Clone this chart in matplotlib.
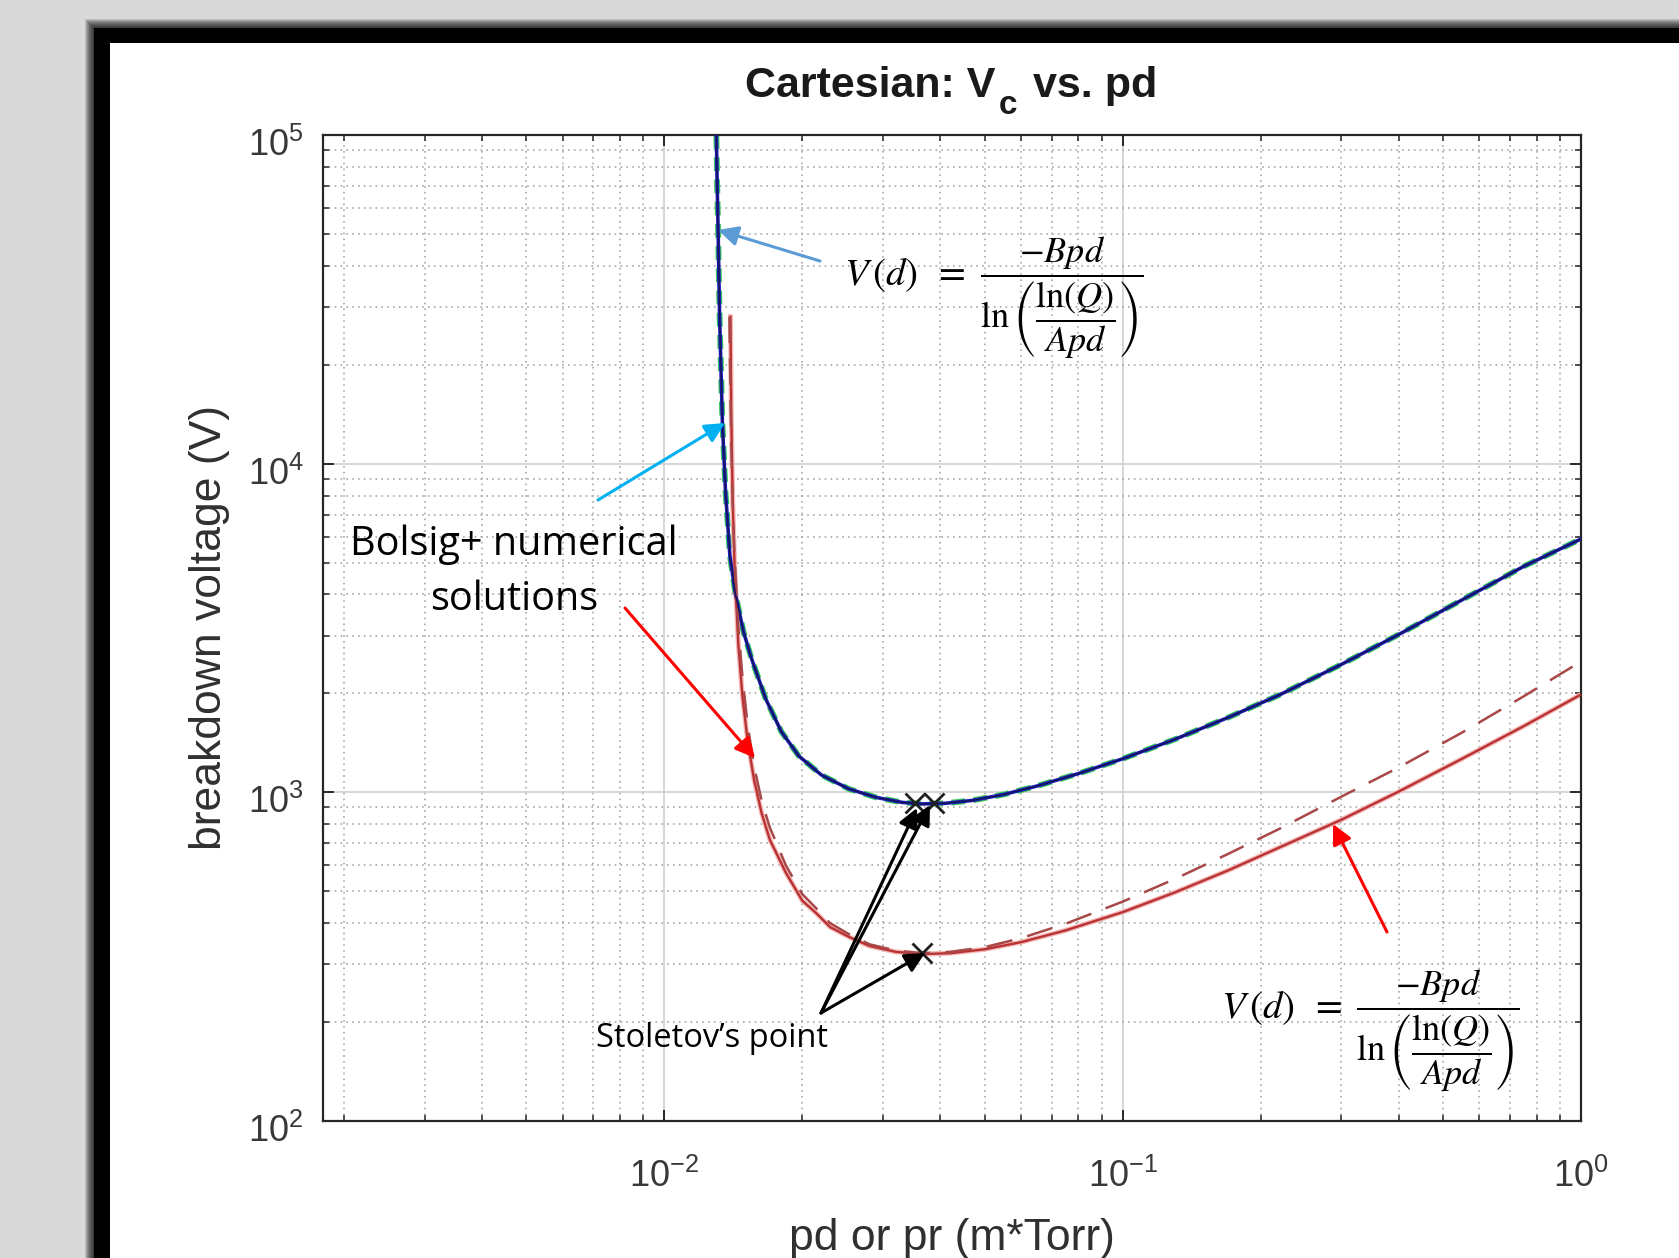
import matplotlib
matplotlib.use('Agg')
import matplotlib.pyplot as plt
from matplotlib.patches import Rectangle
from matplotlib.ticker import LogLocator, NullFormatter
from matplotlib.transforms import ScaledTranslation

# ---------------- data ----------------
pd_upper = [0.01299, 0.01303, 0.01310, 0.01320, 0.01339, 0.01360, 0.01390, 0.01430,
            0.01489, 0.01550, 0.01664, 0.01800, 0.01965, 0.0220, 0.02528, 0.0290,
            0.0330, 0.0365, 0.0410, 0.0470, 0.0550, 0.0650, 0.080, 0.100, 0.130,
            0.170, 0.220, 0.300, 0.400, 0.550, 0.750, 1.000]
v_upper = [100000, 75000, 51600, 28000, 13200, 8200, 5250, 4000,
           3074, 2550, 1925, 1530, 1290, 1130, 1024, 965,
           932, 922, 926, 945, 985, 1045, 1140, 1265, 1450,
           1690, 1980, 2450, 3020, 3850, 4870, 5900]

pd_lower = [0.01394, 0.01400, 0.01410, 0.01425, 0.01450, 0.01480, 0.01520, 0.01570,
            0.01631, 0.01700, 0.01841, 0.0200, 0.02141, 0.0230, 0.0253, 0.0280,
            0.0320, 0.0365, 0.0420, 0.0500, 0.0600, 0.0750, 0.100, 0.130, 0.170,
            0.220, 0.300, 0.400, 0.550, 0.750, 1.000]
v_lower = [28000, 13900, 7650, 4630, 2830, 1970, 1430, 1090,
           863, 716, 570, 468, 430, 389, 363, 341,
           327, 322, 324, 333, 350, 380, 432, 496, 579,
           680, 825, 1005, 1265, 1590, 1985]

pd_lower_dash = [0.01387, 0.01395, 0.01405, 0.01420, 0.01450, 0.01480, 0.01520, 0.01570,
                 0.01631, 0.01700, 0.01841, 0.0200, 0.02141, 0.0230, 0.0253, 0.0280,
                 0.0320, 0.0365, 0.0420, 0.0500, 0.0600, 0.0750, 0.100, 0.130, 0.170,
                 0.220, 0.300, 0.400, 0.550, 0.750, 1.000]
v_lower_dash = [28000, 15000, 9000, 5600, 3200, 2250, 1600, 1200,
                940, 780, 600, 490, 445, 400, 370, 345,
                330, 324, 327, 338, 360, 398, 465, 545, 650,
                775, 970, 1190, 1520, 1960, 2500]

stoletov_pd = [0.03518, 0.03879, 0.03653]
stoletov_v = [928, 928, 324]

x_limits = [0.0018, 1.0]
y_limits = [1e2, 1e5]

title_parts = ['Cartesian: V', 'c', 'vs. pd']
x_label = 'pd or pr (m*Torr)'
y_label = 'breakdown voltage (V)'
eq_left = r'$V\,(d)\;\;=$'
eq_frac = r'$\dfrac{-Bpd}{\ln\left(\dfrac{\ln(Q)}{Apd}\right)}$'

# ---------------- style ----------------
plt.rcParams['font.family'] = ['Liberation Sans', 'DejaVu Sans']
plt.rcParams['mathtext.fontset'] = 'custom'
plt.rcParams['mathtext.rm'] = 'Liberation Sans'
plt.rcParams['mathtext.bf'] = 'Liberation Sans:bold'
plt.rcParams['mathtext.it'] = 'Liberation Sans:italic'
plt.rcParams['lines.scale_dashes'] = False
plt.rcParams['axes.unicode_minus'] = False

W, H = 1679, 1258
fig = plt.figure(figsize=(W / 100, H / 100), dpi=100, facecolor='#d9d9d9')


def fx(px):
    return px / W


def fy(py):
    return 1 - py / H


# slide frame with shadow
for k in range(9):
    off = 9 - k
    fig.add_artist(Rectangle((fx(94 - off), -0.1), 1.3, fy(28 - off) + 0.1,
                             transform=fig.transFigure, facecolor='black',
                             edgecolor='none', alpha=0.13, zorder=-10))
fig.add_artist(Rectangle((fx(94), -0.1), 1.3, fy(28) + 0.1, transform=fig.transFigure,
                         facecolor='black', edgecolor='none', zorder=-9))
fig.add_artist(Rectangle((fx(110), -0.1), 1.3, fy(43) + 0.1, transform=fig.transFigure,
                         facecolor='white', edgecolor='none', zorder=-8))

ax = fig.add_axes([fx(323), fy(1121), fx(1581) - fx(323), (1121 - 135) / H])
ax.set_xscale('log')
ax.set_yscale('log')
ax.set_xlim(*x_limits)
ax.set_ylim(*y_limits)

ax.xaxis.set_major_locator(LogLocator(base=10, numticks=20))
ax.yaxis.set_major_locator(LogLocator(base=10, numticks=20))
ax.xaxis.set_minor_locator(LogLocator(base=10, subs=range(2, 10), numticks=100))
ax.yaxis.set_minor_locator(LogLocator(base=10, subs=range(2, 10), numticks=100))
ax.xaxis.set_minor_formatter(NullFormatter())
ax.yaxis.set_minor_formatter(NullFormatter())

ax.set_axisbelow(True)
ax.grid(True, which='major', color='#d0d0d0', lw=1.2, ls='-')
ax.grid(True, which='minor', color='#a8a8a8', lw=1.2, ls=(0, (1.2, 3.0)))

ax.tick_params(which='major', direction='in', length=8, width=1.4, top=True, right=True,
               labelsize=26, color='#262626', labelcolor='#383838')
ax.tick_params(axis='y', which='major', pad=14)
ax.tick_params(axis='x', which='major', pad=27)
ax.tick_params(which='minor', direction='in', length=4, width=1.1, top=True, right=True,
               color='#262626')
for sp in ax.spines.values():
    sp.set_linewidth(1.6)
    sp.set_color('#262626')

# shift y tick labels slightly downward (MATLAB-like centring)
for lab in ax.get_yticklabels():
    lab.set_transform(lab.get_transform() + ScaledTranslation(0, -5 / 72, fig.dpi_scale_trans))

# curves
ax.plot(pd_upper, v_upper, color='#3cc85a', lw=4.2, dashes=(10, 6), zorder=2)
ax.plot(pd_upper, v_upper, color='#1c1cb8', lw=2.6, zorder=3)
ax.plot(pd_upper, v_upper, color='#141450', lw=1.0, zorder=4)
ax.plot(pd_lower, v_lower, color='#f5b8b8', lw=3.6, zorder=2)
ax.plot(pd_lower, v_lower, color='#b83232', lw=1.7, zorder=3)
ax.plot(pd_lower_dash, v_lower_dash, color='#a84848', lw=1.8, dashes=(19, 11), zorder=3)
ax.plot(stoletov_pd, stoletov_v, ls='none', marker='x', ms=14, mew=2, color='#202020', zorder=6)

# axis labels
ax.set_ylabel(y_label, fontsize=32, color='#303030')
ax.yaxis.set_label_coords((210 - 323) / (1581 - 323), 0.5)
ax.yaxis.label.set_verticalalignment('center')
ax.set_xlabel(x_label, fontsize=32, color='#303030')
ax.xaxis.set_label_coords(0.5, (1121 - 1250) / (1121 - 135))
ax.xaxis.label.set_verticalalignment('baseline')

# title in MATLAB style (low subscript)
renderer = fig.canvas.get_renderer()
t1 = fig.text(0, fy(97), title_parts[0], fontsize=31, fontweight='bold', ha='left',
              va='baseline', color='#1a1a1a')
t2 = fig.text(0, fy(114), title_parts[1], fontsize=24, fontweight='bold', ha='left',
              va='baseline', color='#1a1a1a')
t3 = fig.text(0, fy(97), title_parts[2], fontsize=31, fontweight='bold', ha='left',
              va='baseline', color='#1a1a1a')
w1 = t1.get_window_extent(renderer).width
w2 = t2.get_window_extent(renderer).width
w3 = t3.get_window_extent(renderer).width
gap1, gap2 = 3, 16
total = w1 + gap1 + w2 + gap2 + w3
x0 = 951 - total / 2
t1.set_x(fx(x0))
t2.set_x(fx(x0 + w1 + gap1))
t3.set_x(fx(x0 + w1 + gap1 + w2 + gap2))


# annotations
def arrow(tail, head, color, lw=2.2):
    ax.annotate('', xy=(fx(head[0]), fy(head[1])), xycoords='figure fraction',
                xytext=(fx(tail[0]), fy(tail[1])), textcoords='figure fraction',
                arrowprops=dict(arrowstyle='-|>,head_length=0.6,head_width=0.3',
                                color=color, lw=lw, shrinkA=0, shrinkB=0,
                                mutation_scale=20), zorder=8)


arrow((820, 261), (718, 230), '#5b9bd5')
arrow((598, 500), (725, 423), '#00b0f0')
arrow((625, 608), (755, 758), '#ff0000')
arrow((1387, 932), (1333, 824), '#ff0000')
arrow((821, 1013), (917, 808), 'black')
arrow((821, 1013), (930, 805), 'black')
arrow((821, 1013), (925, 953), 'black')

fig.text(fx(514), fy(555), 'Bolsig+ numerical', fontsize=28.5, family='Open Sans',
         ha='center', va='baseline', color='black')
fig.text(fx(514), fy(610), 'solutions', fontsize=28.5, family='Open Sans',
         ha='center', va='baseline', color='black')
fig.text(fx(596), fy(1047), 'Stoletov\u2019s point', fontsize=23.5, family='Open Sans',
         ha='left', va='baseline', color='black')

# equations (left part and fraction)
for left_x, bar_x, bar_y in [(844, 980, 276), (1221, 1356, 1009)]:
    fig.text(fx(left_x), fy(bar_y + 9), eq_left, fontsize=28, math_fontfamily='stix',
             ha='left', va='baseline', color='black')
    fig.text(fx(bar_x), fy(bar_y + 22), eq_frac, fontsize=26, math_fontfamily='stix',
             ha='left', va='center', color='black')

fig.savefig('out.png', dpi=100, facecolor=fig.get_facecolor())
